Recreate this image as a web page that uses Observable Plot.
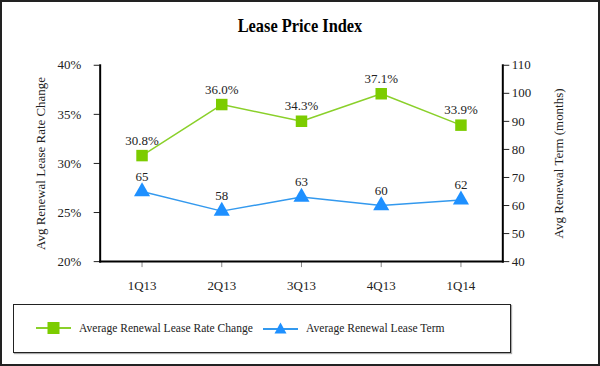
<!DOCTYPE html>
<html><head><meta charset="utf-8">
<script src="https://cdn.jsdelivr.net/npm/d3@7"></script>
<script src="https://cdn.jsdelivr.net/npm/@observablehq/plot@0.6"></script>
<style>
html,body{margin:0;padding:0;background:#fff;}
#wrap{position:relative;width:600px;height:366px;box-sizing:border-box;border:2px solid #222;font-family:"Liberation Serif","Times New Roman",serif;overflow:hidden;}
#title{position:absolute;left:0;width:596px;top:13px;text-align:center;font-weight:bold;font-size:19.5px;color:#000;transform:scaleX(0.84);}
#chart{position:absolute;left:-2px;top:-2px;}
#legend{position:absolute;left:11px;top:302px;width:498px;height:49px;box-sizing:border-box;border:1.5px solid #222;box-shadow:1px 1px 1px #aaa;font-size:13px;color:#222;}
.sw{position:absolute;top:16px;}
.lt{position:absolute;top:15px;line-height:16px;white-space:nowrap;transform:scaleX(0.89);transform-origin:left center;}
</style></head>
<body>
<div id="wrap">
<div id="title">Lease Price Index</div>
<div id="chart"></div>
<div id="legend">
 <svg class="sw" style="left:22px" width="35" height="14"><line x1="0" y1="7" x2="35" y2="7" stroke="#8ad02a" stroke-width="2"/><rect x="11.5" y="1" width="12" height="12" fill="#7ccc00"/></svg>
 <div class="lt" style="left:65px">Average Renewal Lease Rate Change</div>
 <svg class="sw" style="left:249px" width="35" height="14"><line x1="0" y1="8" x2="35" y2="8" stroke="#3399ee" stroke-width="2"/><path d="M17.5,1.5 L23.5,12.5 L11.5,12.5 Z" fill="#1e90ff"/></svg>
 <div class="lt" style="left:292px">Average Renewal Lease Term</div>
</div>
</div>
<script>
const quarters = ["1Q13","2Q13","3Q13","4Q13","1Q14"];
const rateChange = [30.8, 36.0, 34.3, 37.1, 33.9];
const leaseTerm = [65, 58, 63, 60, 62];
const leftTicks = [20, 25, 30, 35, 40];
const rightTicks = [40, 50, 60, 70, 80, 90, 100, 110];

const green = "#7ccc00", greenLine = "#8ad02a", blue = "#1e90ff", blueLine = "#3399ee";
// map right-axis (months 40..110) onto left scale (20..40 %)
const toLeft = v => 20 + (v - 40) * 20 / 70;

const rateData = quarters.map((q, i) => ({q, v: rateChange[i]}));
const termData = quarters.map((q, i) => ({q, v: leaseTerm[i], y: toLeft(leaseTerm[i])}));

const font = "'Liberation Serif', 'Times New Roman', serif";
const fs = 13;
const chart = Plot.plot({
  width: 600, height: 310,
  marginTop: 65, marginBottom: 48, marginLeft: 100, marginRight: 96,
  style: {fontFamily: font, fontSize: fs + "px", color: "#222", background: "transparent"},
  x: {type: "band", domain: quarters, padding: 0, axis: null},
  y: {domain: [20, 40], axis: null},
  marks: [
    Plot.axisX({ticks: quarters, tickSize: 6, tickPadding: 13, stroke: "#888", label: null, fontSize: fs}),
    Plot.axisY({ticks: leftTicks, tickFormat: d => d + "%", tickSize: 6, tickPadding: 13, label: null, fontSize: fs}),
    Plot.text(["Avg Renewal Lease Rate Change"], {frameAnchor: "left", textAnchor: "middle", dx: -60, rotate: -90, fontSize: fs, fill: "#222"}),
    Plot.axisY({anchor: "right", ticks: rightTicks.map(toLeft), tickFormat: d => Math.round(40 + (d - 20) * 70 / 20), tickSize: 6, tickPadding: 3, label: null, fontSize: fs}),
    Plot.text(["Avg Renewal Term (months)"], {frameAnchor: "right", textAnchor: "middle", dx: 56, rotate: -90, fontSize: fs, fill: "#222"}),
    Plot.frame({anchor: "left", stroke: "#000", strokeWidth: 2}),
    Plot.frame({anchor: "right", stroke: "#000", strokeWidth: 2}),
    Plot.frame({anchor: "bottom", stroke: "#000", strokeWidth: 2}),
    Plot.lineY(rateData, {x: "q", y: "v", stroke: greenLine, strokeWidth: 1.5}),
    Plot.dot(rateData, {x: "q", y: "v", symbol: "square", r: 6.5, fill: green}),
    Plot.text(rateData, {x: "q", y: "v", text: d => d.v.toFixed(1) + "%", dy: -15, fontSize: fs, fill: "#222"}),
    Plot.lineY(termData, {x: "q", y: "y", stroke: blueLine, strokeWidth: 1.5}),
    Plot.dot(termData, {x: "q", y: "y", symbol: "triangle", r: 6, fill: blue}),
    Plot.text(termData, {x: "q", y: "y", text: d => String(d.v), dy: -15, fontSize: fs, fill: "#222"})
  ]
});
document.getElementById("chart").append(chart);
</script>
</body></html>
